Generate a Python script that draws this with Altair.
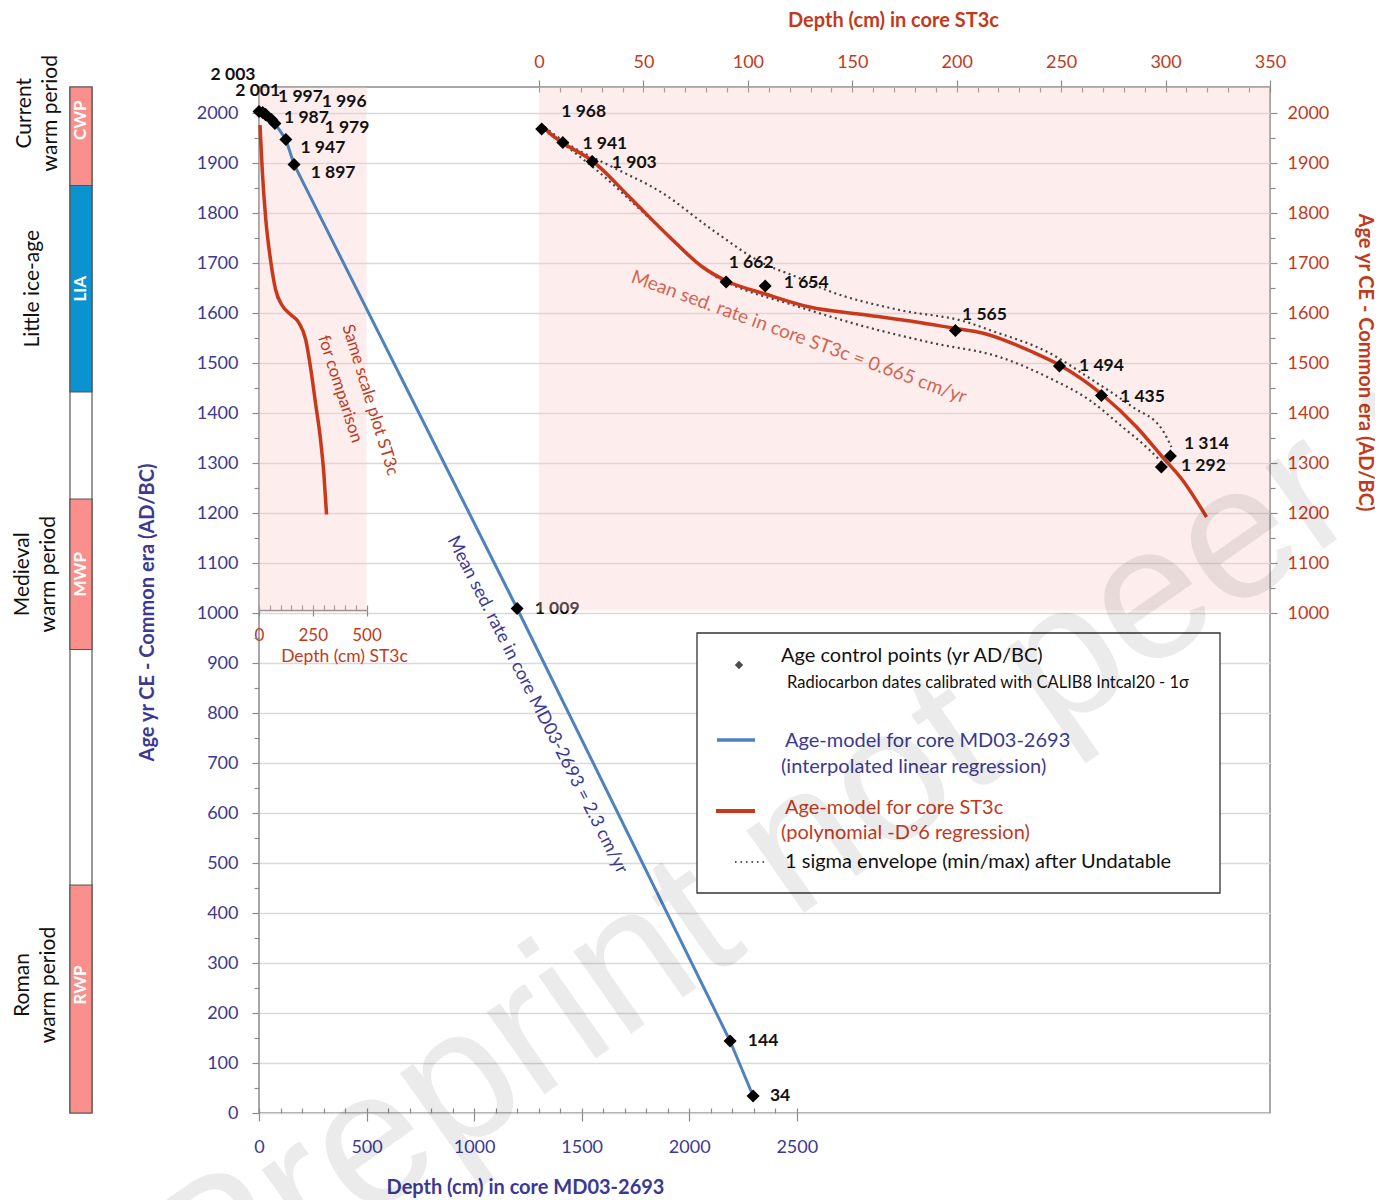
import altair as alt
import pandas as pd

# ---------------------------------------------------------------- data
md_depth = [0, 17, 30, 33, 58, 74, 125, 163, 1200, 2190, 2297]
md_age = [2003, 2001, 1997, 1996, 1987, 1979, 1947, 1897, 1009, 144, 34]

st_depth = [1.3, 11.4, 25.5, 89.6, 108.3, 199.4, 249.2, 269.3, 302.3, 298.0]
st_age = [1968, 1941, 1903, 1662, 1654, 1565, 1494, 1435, 1314, 1292]

st_model_depth = [2.6, 3.6, 12.0, 25.6, 43.3, 62.5, 78.3, 89.8, 108.4, 129.5, 156.8,
                  180.7, 198.0, 212.3, 236.3, 249.2, 269.3, 286.1, 298.5, 308.1, 319.6]
st_model_age = [1971, 1966, 1939, 1904, 1832, 1752, 1692, 1664, 1638, 1612, 1596,
                1582, 1570, 1560, 1522, 1496, 1438, 1372, 1312, 1266, 1192]

env_max_depth = [2.6, 14.6, 35.2, 59.1, 83.1, 107.0, 123.3, 137.6, 172.6, 204.7,
                 215.7, 244.4, 263.5, 284.2, 298.5, 302.8]
env_max_age = [1972, 1936, 1892, 1840, 1766, 1700, 1672, 1646, 1606, 1582,
               1566, 1520, 1470, 1412, 1366, 1332]

env_min_depth = [2.6, 27.5, 59.1, 85.0, 97.4, 118.5, 156.8, 188.4, 220.5, 244.4,
                 263.5, 279.4, 292.3, 298.5]
env_min_age = [1966, 1886, 1766, 1672, 1648, 1620, 1572, 1540, 1512, 1470,
               1426, 1372, 1326, 1300]

inset_depth = [4.6, 15.5, 31, 54, 77, 108, 147, 186, 217, 240, 263, 286, 302, 314]
inset_age = [1976, 1883, 1790, 1705, 1647, 1615, 1597, 1580, 1547, 1490, 1419, 1347, 1276, 1197]

period_codes = ["CWP", "LIA", "MWP", "RWP"]
period_names = ["Current\nwarm period", "Little ice-age", "Medieval\nwarm period", "Roman\nwarm period"]
period_start = [1855, 1442, 927, 0]
period_end = [2052, 1855, 1228, 456]

md_ticks = [0, 500, 1000, 1500, 2000, 2500]
st_ticks = [0, 50, 100, 150, 200, 250, 300, 350]
inset_ticks = [0, 250, 500]

AGE_MAX = 2052
MD_MAX = 4700
ST_MAX = 350
INSET_MAX = 500
SHADE_MIN = 1005

# ---------------------------------------------------------------- style
W, H = 1011, 1026
RED = "#c8381a"
REDTXT = "#c23a1c"
BLUE_TXT = "#3b3994"
BLUE_LINE = "#4f81bd"
GRAY = "#8a8a8a"
GRID = "#d9d9d9"
PINK = "#f7c3c3"
SALMON = "#fb8f8b"
LIA_BLUE = "#0a93cf"
FONT = "Lato"
INSET_PX = W * INSET_MAX / MD_MAX

md = pd.DataFrame({"depth": md_depth, "age": md_age})
md["label"] = md["age"].map(lambda v: f"{v:,}".replace(",", " "))
st = pd.DataFrame({"depth": st_depth, "age": st_age})
st["label"] = st["age"].map(lambda v: f"{v:,}".replace(",", " "))
st_model = pd.DataFrame({"depth": st_model_depth, "age": st_model_age})
env_max = pd.DataFrame({"depth": env_max_depth, "age": env_max_age})
env_min = pd.DataFrame({"depth": env_min_depth, "age": env_min_age})
inset = pd.DataFrame({"depth": inset_depth, "age": inset_age})
periods = pd.DataFrame({"code": period_codes, "name": period_names,
                        "start": period_start, "end": period_end})
periods["mid"] = (periods["start"] + periods["end"]) / 2
dummy = pd.DataFrame({"a": [0]})

major = "datum.value % 100 === 0"

ys = alt.Scale(domain=[0, AGE_MAX], nice=False, zero=False)
xs_md = alt.Scale(domain=[0, MD_MAX], nice=False)
xs_st = alt.Scale(domain=[0, ST_MAX], range=[280, W], nice=False)

y_left_axis = alt.Axis(
    orient="left", values=list(range(0, 2001, 50)), format="d",
    labelExpr=f"{major} ? datum.label : ''", labelOverlap=False,
    grid=True, gridColor=GRID, gridWidth=1.3,
    gridOpacity={"condition": {"test": major, "value": 1}, "value": 0},
    tickSize={"condition": {"test": major, "value": 7}, "value": 5},
    tickColor=GRAY, tickWidth=1.2, domain=False,
    labelColor=BLUE_TXT, labelFontSize=18, labelPadding=14,
    title="Age yr CE - Common era (AD/BC)", titleColor=BLUE_TXT, titleFontSize=20,
    titleFontWeight="bold", titleX=-112, titleY=525, titleAngle=270,
    titleBaseline="middle", titleAlign="center")

x_bottom_axis = alt.Axis(
    orient="bottom", values=md_ticks, format="d", grid=False, domain=False,
    tickSize=8, tickColor=GRAY, tickWidth=1.2, labelFlush=False, labelOverlap=False,
    labelColor=BLUE_TXT, labelFontSize=18, labelPadding=17,
    title="Depth (cm) in core MD03-2693", titleColor=BLUE_TXT, titleFontSize=20,
    titleFontWeight="bold", titleX=266, titleY=74, titleBaseline="middle", titleAlign="center")

x_top_axis = alt.Axis(
    orient="top", values=st_ticks, format="d", grid=False, domain=False,
    tickSize=7, tickColor=GRAY, tickWidth=1.2, labelFlush=False, labelOverlap=False,
    labelColor=REDTXT, labelFontSize=18, labelPadding=9,
    title="Depth (cm) in core ST3c", titleColor=REDTXT, titleFontSize=20,
    titleFontWeight="bold", titleX=634, titleY=-67, titleBaseline="middle", titleAlign="center")

y_right_axis = alt.Axis(
    orient="right", values=list(range(1000, 2001, 50)), format="d",
    labelExpr=f"{major} ? datum.label : ''", labelOverlap=False, grid=False, domain=False,
    tickSize={"condition": {"test": major, "value": 7}, "value": 5},
    tickColor=GRAY, tickWidth=1.2, labelColor=REDTXT, labelFontSize=18, labelPadding=10,
    title="Age yr CE - Common era (AD/BC)", titleColor=REDTXT, titleFontSize=20,
    titleFontWeight="bold", titleX=94, titleY=275, titleAngle=90,
    titleBaseline="middle", titleAlign="center")

inset_axis = alt.Axis(
    orient="bottom", offset=-503,
    values=inset_ticks, format="d", grid=False, domain=True, domainColor=GRAY, domainWidth=1.3,
    tickSize=6, tickColor=GRAY, tickWidth=1.2, labelFlush=False, labelOverlap=False,
    labelColor=REDTXT, labelFontSize=17, labelPadding=11,
    title="Depth (cm) ST3c", titleColor=REDTXT, titleFontSize=17.5, titleFontWeight="normal",
    titleX=85, titleY=46, titleBaseline="middle", titleAlign="center")


def X(field):
    return alt.X(field, type="quantitative", scale=xs_md, axis=x_bottom_axis)


def Y(field):
    return alt.Y(field, type="quantitative", scale=ys, axis=y_left_axis)


def XS(field):
    return alt.X(field, type="quantitative", scale=xs_st, axis=x_top_axis)


def YS(field):
    return alt.Y(field, type="quantitative", scale=ys, axis=y_right_axis)


# ------------------------------------------------ MD03 layer (bottom/left scales)
m_layers = []
m_layers.append(
    alt.Chart(pd.DataFrame({"x0": [0], "x1": [INSET_MAX], "y0": [SHADE_MIN], "y1": [AGE_MAX]}))
    .mark_rect(fill=PINK, opacity=0.3)
    .encode(x=X("x0"), x2="x1", y=Y("y0"), y2="y1"))

# period bar
m_layers.append(
    alt.Chart(pd.DataFrame({"s": [0], "e": [AGE_MAX]}))
    .mark_rect(fill="white", stroke="#555", strokeWidth=1.2)
    .encode(x=alt.value(-189), x2=alt.value(-167), y=Y("s"), y2="e"))
m_layers.append(
    alt.Chart(periods).mark_rect(stroke="#555", strokeWidth=1.2)
    .encode(x=alt.value(-189), x2=alt.value(-167), y=Y("start"), y2="end",
            color=alt.Color("code:N", scale=alt.Scale(domain=period_codes,
                            range=[SALMON, LIA_BLUE, SALMON, SALMON]), legend=None)))
label_shift = {"CWP": 16, "LIA": 0, "MWP": 0, "RWP": 14}
name_x = {"CWP": -234, "LIA": -226, "MWP": -236, "RWP": -236}
for code in period_codes:
    sub = periods[periods["code"] == code]
    m_layers.append(
        alt.Chart(sub).mark_text(angle=270, color="white", fontWeight="bold", fontSize=17,
                                 align="center", baseline="middle", dx=label_shift[code])
        .encode(x=alt.value(-178), y=Y("mid"), text="code:N"))
    m_layers.append(
        alt.Chart(sub).mark_text(angle=270, color="#111", fontSize=21, lineHeight=26,
                                 align="center", baseline="middle", lineBreak="\n",
                                 dx=label_shift[code] + (7 if code == "CWP" else 0))
        .encode(x=alt.value(name_x[code]), y=Y("mid"), text="name:N"))

# MD03 age model and control points
m_layers.append(alt.Chart(md).mark_line(color=BLUE_LINE, strokeWidth=3)
                .encode(x=X("depth"), y=Y("age")))
m_layers.append(alt.Chart(inset).mark_line(color=RED, strokeWidth=3.5, interpolate="monotone")
                .encode(x=X("depth"), y=Y("age")))
m_layers.append(alt.Chart(md).mark_point(shape="diamond", filled=True, color="black",
                                         size=170, opacity=1)
                .encode(x=X("depth"), y=Y("age")))
md_off = {2003: (-26, -37), 2001: (-5, -22), 1997: (35, -18), 1996: (78, -13),
          1987: (35, -2), 1979: (72, 4), 1947: (37, 8), 1897: (39, 8),
          1009: (40, 0), 144: (33, 0), 34: (27, 0)}
for i, row in md.iterrows():
    dx, dy = md_off[row["age"]]
    m_layers.append(
        alt.Chart(md.iloc[[i]]).mark_text(fontSize=17.5, fontWeight="bold", color="#111",
                                          align="center", baseline="middle", dx=dx, dy=dy)
        .encode(x=X("depth"), y=Y("age"), text="label:N"))


# annotations
def note(txt, x, y, angle, color, size):
    return (alt.Chart(dummy).mark_text(text=txt, angle=angle, color=color, fontSize=size,
                                       align="center", baseline="middle")
            .encode(x=alt.value(x), y=alt.value(y)))


m_layers.append(note("Same scale plot ST3c", 111, 313, 73, REDTXT, 17))
m_layers.append(note("for comparison", 81, 302, 72, REDTXT, 17))
m_layers.append(note("Mean sed. rate in core ST3c = 0.665 cm/yr", 540, 250, 20, REDTXT, 19))
m_layers.append(note("Mean sed. rate in core MD03-2693 = 2.3  cm/yr", 278, 618, 63, BLUE_TXT, 18))

# legend box
m_layers.append(alt.Chart(dummy).mark_rect(fill="white", stroke="#333", strokeWidth=1.3)
                .encode(x=alt.value(438), x2=alt.value(961), y=alt.value(546), y2=alt.value(806)))
m_layers.append(alt.Chart(dummy).mark_point(shape="diamond", filled=True, color="black", size=70)
                .encode(x=alt.value(480), y=alt.value(578)))
m_layers.append(alt.Chart(dummy).mark_rule(color=BLUE_LINE, strokeWidth=3.5)
                .encode(x=alt.value(458), x2=alt.value(496), y=alt.value(653)))
m_layers.append(alt.Chart(dummy).mark_rule(color=RED, strokeWidth=4)
                .encode(x=alt.value(457), x2=alt.value(496), y=alt.value(724)))
m_layers.append(alt.Chart(dummy).mark_rule(color="#555", strokeWidth=1.8, strokeDash=[1.5, 4])
                .encode(x=alt.value(476), x2=alt.value(509), y=alt.value(775)))


def ltext(txt, x, y, color, size):
    return (alt.Chart(dummy).mark_text(text=txt, color=color, fontSize=size,
                                       align="left", baseline="middle")
            .encode(x=alt.value(x), y=alt.value(y)))


m_layers.append(ltext("Age control points (yr AD/BC)", 522, 569, "#111", 20))
m_layers.append(ltext("Radiocarbon dates calibrated with CALIB8 Intcal20 - 1\u03c3", 528, 596, "#111", 16.5))
m_layers.append(ltext("Age-model for core MD03-2693", 526, 654, BLUE_TXT, 20))
m_layers.append(ltext("(interpolated linear regression)", 522, 680, BLUE_TXT, 20))
m_layers.append(ltext("Age-model for core ST3c", 526, 721, REDTXT, 20))
m_layers.append(ltext("(polynomial -D\u00b06 regression)", 522, 746, REDTXT, 20))
m_layers.append(ltext("1 sigma envelope (min/max) after Undatable", 526, 775, "#111", 20))

M = alt.layer(*m_layers)

# ------------------------------------------------ ST3c layer (top/right scales)
s_layers = []
s_layers.append(
    alt.Chart(pd.DataFrame({"x0": [0], "x1": [ST_MAX], "y0": [SHADE_MIN], "y1": [AGE_MAX]}))
    .mark_rect(fill=PINK, opacity=0.3)
    .encode(x=XS("x0"), x2="x1", y=YS("y0"), y2="y1"))
for env in (env_max, env_min):
    s_layers.append(alt.Chart(env).mark_line(color="#444", strokeWidth=2.2, strokeDash=[2, 3.5],
                                             interpolate="monotone")
                    .encode(x=XS("depth"), y=YS("age")))
s_layers.append(alt.Chart(st_model).mark_line(color=RED, strokeWidth=3.5, interpolate="monotone")
                .encode(x=XS("depth"), y=YS("age")))
s_layers.append(alt.Chart(st).mark_point(shape="diamond", filled=True, color="black",
                                         size=170, opacity=1)
                .encode(x=XS("depth"), y=YS("age")))
st_off = {1968: (42, -17), 1941: (42, 1), 1903: (42, 1), 1662: (25, -19), 1654: (41, -3),
          1565: (29, -16), 1494: (42, 0), 1435: (41, 1), 1314: (36, -12), 1292: (42, -1)}
for i, row in st.iterrows():
    dx, dy = st_off[row["age"]]
    s_layers.append(
        alt.Chart(st.iloc[[i]]).mark_text(fontSize=17.5, fontWeight="bold", color="#111",
                                          align="center", baseline="middle", dx=dx, dy=dy)
        .encode(x=XS("depth"), y=YS("age"), text="label:N"))
S = alt.layer(*s_layers)

# ------------------------------------------------ inset axis and minor ticks
I = (alt.Chart(pd.DataFrame({"d": [0, INSET_MAX]})).mark_point(opacity=0)
     .encode(x=alt.X("d:Q", scale=alt.Scale(domain=[0, INSET_MAX], range=[0, INSET_PX], nice=False),
                     axis=inset_axis), y=alt.value(0)))


def minor(domain, rng, values, orient, offset):
    sc = alt.Scale(domain=domain, nice=False) if rng is None else alt.Scale(domain=domain, range=rng, nice=False)
    return (alt.Chart(pd.DataFrame({"m": domain})).mark_point(opacity=0)
            .encode(x=alt.X("m:Q", scale=sc,
                            axis=alt.Axis(orient=orient, offset=offset, values=values, labels=False,
                                          domain=False, grid=False, tickSize=5, tickColor=GRAY,
                                          tickWidth=1.2, title="")),
                    y=alt.value(0)))


Bmin = minor([0, MD_MAX], None, list(range(0, 2501, 100)), "bottom", -5)
Tmin = minor([0, ST_MAX], [280, W], list(range(0, 351, 10)), "top", -5)
Imin = minor([0, INSET_MAX], [0, INSET_PX], list(range(0, 501, 50)), "bottom", -508)

# ------------------------------------------------ watermark
WM = (alt.Chart(dummy).mark_text(text="Preprint not peer reviewed", angle=325, fontSize=190,
                                 font="Liberation Sans", color="#000", opacity=0.075,
                                 align="left", baseline="alphabetic")
      .encode(x=alt.value(205 - 259), y=alt.value(1332 - 87)))

chart = (alt.layer(M, S, I, Bmin, Tmin, Imin, WM)
         .resolve_scale(x="independent", y="independent")
         .properties(width=W, height=H, background="white",
                     autosize=alt.AutoSizeParams(type="none"),
                     padding={"left": 251, "top": 79, "right": 105, "bottom": 87})
         .configure_view(stroke=GRAY, strokeWidth=1.5)
         .configure_axis(labelFont=FONT, titleFont=FONT)
         .configure_text(font=FONT))

chart.save("out.html", embed_options={"renderer": "svg", "actions": False})
